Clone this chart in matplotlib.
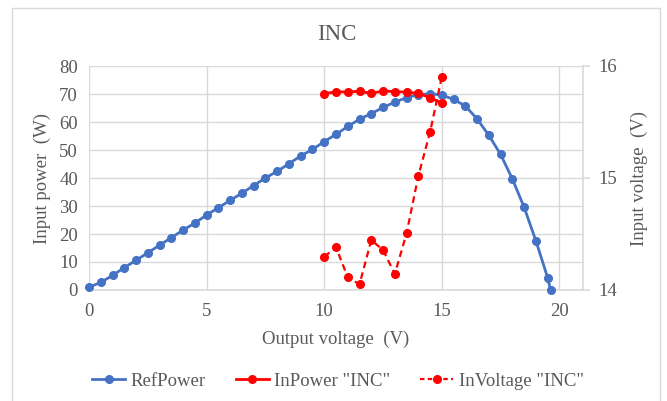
import matplotlib
matplotlib.use("Agg")
import matplotlib.pyplot as plt
from matplotlib.lines import Line2D
from matplotlib.patches import Rectangle

# Data
ref_v = [0, 0.5, 1, 1.5, 2, 2.5, 3, 3.5, 4, 4.5, 5, 5.5, 6, 6.5, 7, 7.5, 8, 8.5, 9, 9.5,
         10, 10.5, 11, 11.5, 12, 12.5, 13, 13.5, 14, 14.5, 15, 15.5, 16, 16.5, 17, 17.5,
         18, 18.5, 19, 19.5, 19.62]
ref_p = [1.0, 2.7, 5.2, 8.0, 10.6, 13.3, 16.0, 18.7, 21.4, 23.9, 26.8, 29.4, 32.0, 34.6,
         37.3, 40.0, 42.4, 45.1, 47.9, 50.2, 53.0, 55.6, 58.4, 61.0, 63.0, 65.2, 67.1, 68.7,
         69.8, 70.1, 69.6, 68.1, 65.7, 61.1, 55.2, 48.4, 39.6, 29.5, 17.5, 4.3, 0.0]

inc_v = [10, 10.5, 11, 11.5, 12, 12.5, 13, 13.5, 14, 14.5, 15]
inc_power = [70.1, 70.8, 70.7, 71.0, 70.2, 71.1, 70.8, 70.7, 70.2, 68.7, 66.7]
inc_voltage = [14.297, 14.381, 14.113, 14.051, 14.446, 14.357, 14.143, 14.506, 15.018, 15.411, 15.905]

title = "INC"
labels = ["RefPower", 'InPower "INC"', 'InVoltage "INC"']

TXT = "#595959"
GRID = "#d9d9d9"
BLUE = "#4472c4"
RED = "#ff0000"

plt.rcParams['font.family'] = ['Liberation Serif', 'DejaVu Serif']

fig = plt.figure(figsize=(6.67, 4.01), dpi=100)
W, H = 667, 401
ax = fig.add_axes([89 / W, 1 - 290 / H, (583 - 89) / W, (290 - 66) / H])
ax2 = ax.twinx()

ax.plot(ref_v, ref_p, color=BLUE, lw=2, marker='o', ms=5.5, zorder=3, clip_on=False)
ax.plot(inc_v, inc_power, color=RED, lw=2, marker='o', ms=5.5, zorder=4, clip_on=False)
ax2.plot(inc_v, inc_voltage, color=RED, lw=1.6, ls=(0, (3, 2)), marker='o', ms=5.5,
         zorder=4, clip_on=False)

ax.set_xlim(0, 21)
ax.set_ylim(0, 80)
ax2.set_ylim(14, 16)
ax.set_xticks([0, 5, 10, 15, 20])
ax.set_yticks(range(0, 81, 10))
ax2.set_yticks([14, 15, 16])

ax.grid(True, color=GRID, lw=1)
ax.set_axisbelow(True)
for a in (ax, ax2):
    for s in a.spines.values():
        s.set_visible(False)
ax.spines['bottom'].set_visible(True)
ax.spines['bottom'].set_color(GRID)
ax.spines['bottom'].set_linewidth(1.2)
ax2.spines['right'].set_visible(True)
ax2.spines['right'].set_color(GRID)
ax2.spines['right'].set_linewidth(1.2)

ax.tick_params(axis='both', length=0, labelsize=13.5, colors=TXT, pad=8)
ax.tick_params(axis='x', pad=9)
ax2.tick_params(axis='y', length=5, width=1.2, color=GRID, labelsize=13.5, labelcolor=TXT, pad=6)

ax.set_xlabel("Output voltage  (V)", fontsize=13.5, color=TXT, labelpad=8)
ax.set_ylabel("Input power  (W)", fontsize=13.5, color=TXT, labelpad=6)
ax2.set_ylabel("Input voltage  (V)", fontsize=13.5, color=TXT, labelpad=10)

fig.text(337 / W, 1 - 35 / H, title, ha='center', va='center', fontsize=16.5, color=TXT)

handles = [
    Line2D([], [], color=BLUE, lw=2, marker='o', ms=5.5),
    Line2D([], [], color=RED, lw=2, marker='o', ms=5.5),
    Line2D([], [], color=RED, lw=1.6, ls=(0, (2, 1.5)), marker='o', ms=5.5),
]
fig.legend(handles, labels, loc='center', bbox_to_anchor=(338 / W, 1 - 381 / H), ncol=3,
           frameon=False, fontsize=13.5, labelcolor=TXT, handlelength=1.75,
           handletextpad=0.3, columnspacing=1.6)

fig.patches.append(Rectangle((12 / W, -0.01), (660 - 12) / W, 1 - 8 / H + 0.01,
                             transform=fig.transFigure, fill=False, edgecolor=GRID, lw=1))

fig.savefig("out.png", dpi=100)
